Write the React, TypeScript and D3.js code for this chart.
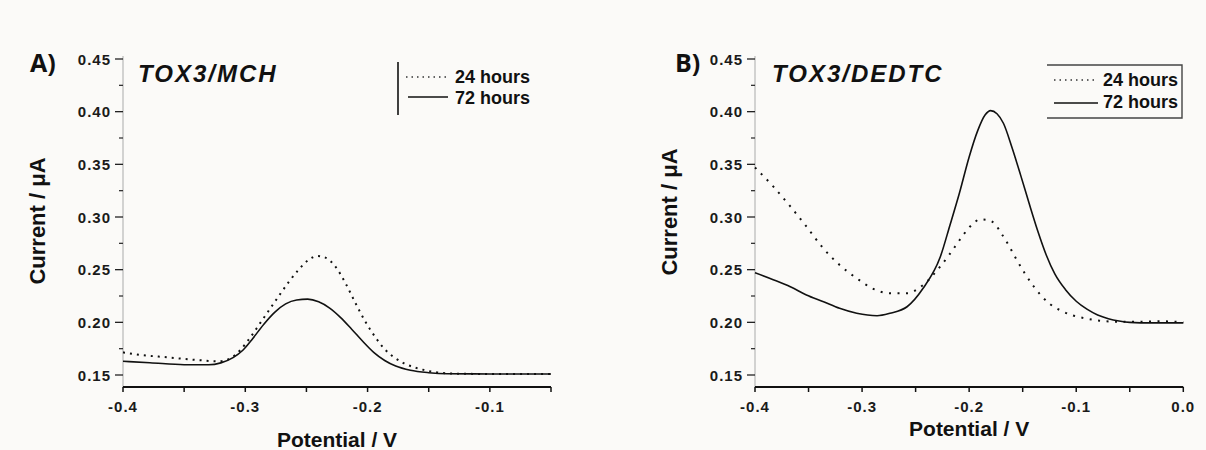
import React from "react";
import * as d3 from "d3";

// ---------- Data ----------
// Panel A: TOX3/MCH
const aX24 = [-0.4, -0.385, -0.364, -0.337, -0.322, -0.312, -0.304, -0.296, -0.288, -0.28, -0.272, -0.264, -0.256, -0.248, -0.241, -0.234, -0.226, -0.218, -0.21, -0.202, -0.194, -0.186, -0.178, -0.17, -0.162, -0.153, -0.143, -0.13, -0.1, -0.05];
const aY24 = [0.1715, 0.169, 0.1668, 0.164, 0.163, 0.166, 0.1737, 0.1855, 0.199, 0.2125, 0.226, 0.239, 0.2505, 0.2595, 0.263, 0.2612, 0.2525, 0.237, 0.2185, 0.201, 0.1865, 0.1745, 0.1665, 0.161, 0.1573, 0.1545, 0.1525, 0.1513, 0.151, 0.151];
const aX72 = [-0.4, -0.378, -0.35, -0.33, -0.32, -0.31, -0.302, -0.294, -0.285, -0.276, -0.267, -0.258, -0.249, -0.24, -0.231, -0.222, -0.213, -0.204, -0.195, -0.186, -0.177, -0.165, -0.15, -0.135, -0.1, -0.05];
const aY72 = [0.163, 0.1617, 0.1598, 0.1597, 0.1615, 0.1665, 0.1735, 0.1845, 0.198, 0.2095, 0.2175, 0.2212, 0.222, 0.2195, 0.2135, 0.2045, 0.1935, 0.182, 0.1715, 0.1638, 0.1585, 0.1545, 0.1522, 0.1512, 0.151, 0.151];

// Panel B: TOX3/DEDTC
const bX24 = [-0.4, -0.383, -0.367, -0.352, -0.336, -0.321, -0.305, -0.29, -0.274, -0.258, -0.243, -0.227, -0.211, -0.2055, -0.196, -0.19, -0.182, -0.176, -0.17, -0.163, -0.156, -0.148, -0.14, -0.132, -0.124, -0.115, -0.103, -0.09, -0.078, -0.062, -0.04, -0.02, 0];
const bY24 = [0.347, 0.329, 0.31, 0.291, 0.27, 0.2545, 0.2418, 0.232, 0.2276, 0.2276, 0.2355, 0.253, 0.275, 0.283, 0.294, 0.2978, 0.297, 0.2934, 0.2845, 0.273, 0.26, 0.2465, 0.2345, 0.2245, 0.217, 0.2115, 0.2065, 0.2035, 0.2015, 0.2006, 0.2005, 0.201, 0.2];
const bX72 = [-0.4, -0.383, -0.367, -0.352, -0.336, -0.321, -0.305, -0.286, -0.274, -0.258, -0.243, -0.227, -0.218, -0.209, -0.2, -0.192, -0.185, -0.18, -0.174, -0.168, -0.16, -0.152, -0.144, -0.136, -0.128, -0.12, -0.11, -0.1, -0.09, -0.08, -0.07, -0.06, -0.05, -0.03, 0];
const bY72 = [0.2471, 0.2405, 0.2338, 0.226, 0.2196, 0.2133, 0.2086, 0.2063, 0.2086, 0.2148, 0.2323, 0.262, 0.292, 0.323, 0.357, 0.382, 0.397, 0.401, 0.398, 0.389, 0.366, 0.34, 0.313, 0.287, 0.264, 0.246, 0.231, 0.22, 0.2125, 0.207, 0.2035, 0.2013, 0.2, 0.1995, 0.1995];

const yTicks = [0.15, 0.2, 0.25, 0.3, 0.35, 0.4, 0.45];
const yMinor = [0.175, 0.225, 0.275, 0.325, 0.375, 0.425];
const aXTicks = [-0.4, -0.3, -0.2, -0.1];
const aXMinor = [-0.35, -0.25, -0.15, -0.05];
const bXTicks = [-0.4, -0.3, -0.2, -0.1, 0.0];
const bXMinor = [-0.35, -0.25, -0.15, -0.05];
const legendLabels = ["24 hours", "72 hours"];

const FONT = "'Liberation Sans', Arial, sans-serif";

type PanelProps = {
  letter: string;
  title: string;
  xDomain: [number, number];
  xRange: [number, number];
  xTicks: number[];
  xMinor: number[];
  x24: number[]; y24: number[]; x72: number[]; y72: number[];
  letterX: number; titleX: number;
  yLabelX: number; yLabelY: number;
  xLabelY: number;
  dash: string;
  legend: React.ReactNode;
};

function Panel(p: PanelProps) {
  const x = d3.scaleLinear().domain(p.xDomain).range(p.xRange);
  const y = d3.scaleLinear().domain([0.15, 0.45]).range([375, 59]);
  const yBottom = y(0.1386);
  const line = d3.line<[number, number]>().x(d => x(d[0])).y(d => y(d[1])).curve(d3.curveMonotoneX);
  const d24 = line(p.x24.map((v, i) => [v, p.y24[i]] as [number, number])) || "";
  const d72 = line(p.x72.map((v, i) => [v, p.y72[i]] as [number, number])) || "";
  const x0 = p.xRange[0];
  const x1 = p.xRange[1];
  const fmtX = (v: number) => (v === 0 ? "0.0" : d3.format(".1f")(v).replace("−", "-"));
  return (
    <g>
      <text x={p.letterX} y={72} fontFamily="'Open Sans', sans-serif" fontWeight={700} fontSize={25} fill="#111">{p.letter}</text>
      <text x={p.titleX} y={82} fontFamily={FONT} fontWeight={700} fontStyle="italic" fontSize={24} letterSpacing={2} fill="#111">{p.title}</text>
      {/* y axis */}
      <line x1={x0} x2={x0} y1={56} y2={yBottom} stroke="#b8b8b8" strokeWidth={1.2} />
      {yTicks.map(t => (
        <g key={"yt" + t}>
          <line x1={x0 - 8} x2={x0} y1={y(t)} y2={y(t)} stroke="#222" strokeWidth={1.3} />
          <text x={x0 - 12} y={y(t) + 5.5} textAnchor="end" fontFamily={FONT} fontWeight={700} fontSize={15} letterSpacing={1} fill="#1a1a1a">{t.toFixed(2)}</text>
        </g>
      ))}
      {yMinor.map(t => (
        <line key={"ym" + t} x1={x0 - 4} x2={x0} y1={y(t)} y2={y(t)} stroke="#333" strokeWidth={1.3} />
      ))}
      {/* x axis */}
      <line x1={x0} x2={x1} y1={yBottom} y2={yBottom} stroke="#111" strokeWidth={2} />
      {p.xTicks.map(t => (
        <g key={"xt" + t}>
          <line x1={x(t)} x2={x(t)} y1={yBottom} y2={yBottom + 5} stroke="#111" strokeWidth={1.5} />
          <text x={x(t)} y={411.5} textAnchor="middle" fontFamily={FONT} fontWeight={700} fontSize={15} letterSpacing={1} fill="#1a1a1a">{fmtX(t)}</text>
        </g>
      ))}
      {p.xMinor.map(t => (
        <line key={"xm" + t} x1={x(t)} x2={x(t)} y1={yBottom} y2={yBottom + 5} stroke="#111" strokeWidth={1.5} />
      ))}
      {/* axis titles */}
      <text x={(x0 + x1) / 2} y={p.xLabelY} textAnchor="middle" fontFamily={FONT} fontWeight={700} fontSize={21} fill="#111">Potential / V</text>
      <text transform={`translate(${p.yLabelX},${p.yLabelY}) rotate(-90)`} textAnchor="middle" fontFamily={FONT} fontWeight={700} fontSize={22} fill="#111">Current / μA</text>
      {/* curves */}
      <path d={d24} fill="none" stroke="#111" strokeWidth={2} strokeDasharray={p.dash} />
      <path d={d72} fill="none" stroke="#111" strokeWidth={1.6} />
      {p.legend}
    </g>
  );
}

export default function App() {
  const legendA = (
    <g>
      <line x1={398} x2={398} y1={62} y2={115} stroke="#111" strokeWidth={1.6} />
      <line x1={406} x2={448} y1={77} y2={77} stroke="#333" strokeWidth={1.6} strokeDasharray="1.5 4" />
      <text x={455} y={83} fontFamily={FONT} fontWeight={700} fontSize={18} fill="#111">{legendLabels[0]}</text>
      <line x1={408} x2={448} y1={97} y2={97} stroke="#111" strokeWidth={1.6} />
      <text x={455} y={104} fontFamily={FONT} fontWeight={700} fontSize={18} fill="#111">{legendLabels[1]}</text>
    </g>
  );
  const legendB = (
    <g>
      <path d="M1047,65 H1182 V118 H1047" fill="none" stroke="#444" strokeWidth={1.4} />
      <line x1={1054} x2={1098} y1={80} y2={80} stroke="#333" strokeWidth={1.6} strokeDasharray="1.5 4" />
      <text x={1103} y={85.5} fontFamily={FONT} fontWeight={700} fontSize={18} fill="#111">{legendLabels[0]}</text>
      <line x1={1054} x2={1098} y1={103} y2={103} stroke="#111" strokeWidth={1.6} />
      <text x={1103} y={108} fontFamily={FONT} fontWeight={700} fontSize={18} fill="#111">{legendLabels[1]}</text>
    </g>
  );
  return (
    <svg width={1206} height={450} style={{ position: "absolute", left: 0, top: 0, background: "#fbfaf8" }}>
      <Panel letter="A)" title="TOX3/MCH" xDomain={[-0.4, -0.05]} xRange={[123, 551]}
        xTicks={aXTicks} xMinor={aXMinor} x24={aX24} y24={aY24} x72={aX72} y72={aY72}
        letterX={30} titleX={138} yLabelX={45} yLabelY={221} xLabelY={447} dash="2 5" legend={legendA} />
      <Panel letter="B)" title="TOX3/DEDTC" xDomain={[-0.4, 0]} xRange={[755, 1183.3]}
        xTicks={bXTicks} xMinor={bXMinor} x24={bX24} y24={bY24} x72={bX72} y72={bY72}
        letterX={675} titleX={772} yLabelX={677} yLabelY={212} xLabelY={436} dash="2 6.5" legend={legendB} />
    </svg>
  );
}
